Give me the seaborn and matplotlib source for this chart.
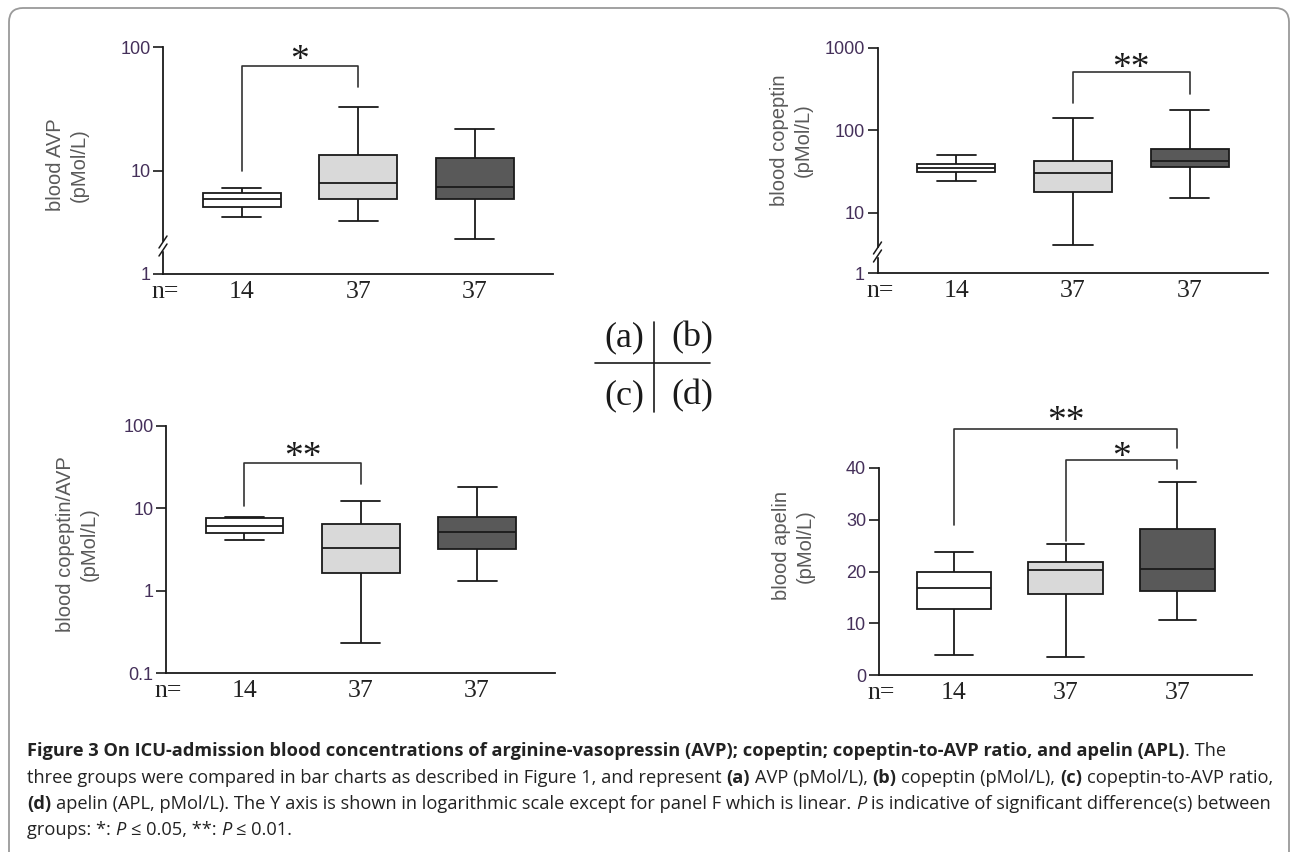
import numpy as np
import pandas as pd
import matplotlib
matplotlib.use("Agg")
import matplotlib.pyplot as plt
import seaborn as sns
from matplotlib.patches import FancyBboxPatch, Rectangle
from matplotlib.lines import Line2D
from matplotlib.transforms import IdentityTransform
from matplotlib.ticker import NullLocator

# three groups on the x axis, with their sizes printed under each box
groups = ["group 1", "group 2", "group 3"]
n_sizes = ["14", "37", "37"]
box_colors = ["#ffffff", "#d9d9d9", "#595959"]

# five-number summaries: low whisker, Q1, median, Q3, high whisker
avp = [[4.23, 5.15, 5.9, 6.6, 7.35],
       [3.93, 5.9, 8.0, 13.5, 32.6],
       [2.83, 5.95, 7.43, 12.7, 21.8]]
copeptin = [[24.7, 31.7, 35.1, 39.3, 50.0],
            [4.06, 17.8, 30.5, 42.7, 143.0],
            [15.1, 36.5, 43.1, 59.2, 175.0]]
ratio = [[4.07, 4.95, 6.18, 7.6, 7.88],
         [0.232, 1.64, 3.32, 6.42, 12.4],
         [1.32, 3.24, 5.21, 7.93, 18.4]]
apelin = [[3.8, 12.7, 16.8, 19.9, 23.7],
          [3.5, 15.6, 20.2, 21.9, 25.4],
          [10.7, 16.2, 20.5, 28.3, 37.2]]

# significant comparisons: (group i, group j, label)
sig_a = [(0, 1, "*")]
sig_b = [(1, 2, "**")]
sig_c = [(0, 1, "**")]
sig_d = [(0, 2, "**"), (1, 2, "*")]

sns.set_theme(style="ticks")
plt.rcParams["font.family"] = ["Liberation Sans", "DejaVu Sans"]

W, H = 1292, 852
fig = plt.figure(figsize=(W / 100, H / 100), dpi=100)
ink = "#1a1a1a"
tick_col = "#45305a"


def fx(x):
    return x / W


def fy(y):
    return 1 - y / H


def add_ax(l, t, r, b):
    return fig.add_axes([l / W, 1 - b / H, (r - l) / W, (b - t) / H])


def broken_log(lb, k):
    # log axis, squeezed by k below the break value 10**lb
    def fwd(v):
        lv = np.log10(np.clip(np.asarray(v, dtype=float), 1e-9, None))
        return np.where(lv >= lb, lv, lb - (lb - lv) * k)

    def inv(u):
        u = np.asarray(u, dtype=float)
        return np.where(u >= lb, 10.0 ** u, 10.0 ** (lb - (lb - u) / k))
    return fwd, inv


def draw_panel(ax, stats, yticks, ylim, sig, bracket_y, star_y):
    df = pd.DataFrame({"group": np.repeat(groups, 5), "value": np.concatenate(stats)})
    sns.boxplot(data=df, x="group", y="value", hue="group", palette=box_colors,
                legend=False, width=0.67, whis=(0, 100), linecolor=ink,
                linewidth=1.3, saturation=1, ax=ax)
    ax.set_ylim(*ylim)
    ax.set_xlim(-0.675, 2.67)
    ax.set_yticks(yticks, [f"{t:g}" for t in yticks])
    ax.yaxis.set_minor_locator(NullLocator())
    ax.set_xticks(range(3), n_sizes)
    ax.set_xlabel("")
    ax.set_ylabel("")
    ax.patch.set_alpha(0)
    for s in ["top", "right"]:
        ax.spines[s].set_visible(False)
    for s in ["left", "bottom"]:
        ax.spines[s].set_color(ink)
        ax.spines[s].set_linewidth(1.3)
    ax.tick_params(axis="x", length=0, pad=5, labelsize=18.5, labelcolor="#222222")
    for lab in ax.get_xticklabels():
        lab.set_fontfamily("Liberation Serif")
    ax.tick_params(axis="y", direction="out", length=7, width=1.2, color=ink,
                   labelsize=13, labelcolor=tick_col, pad=2)
    ax.annotate("n=", xy=(0, 0), xycoords="axes fraction", xytext=(-8, -5),
                textcoords="offset points", ha="left", va="top", fontsize=18.5,
                family="Liberation Serif", color="#222222")
    for (i, j, lab), (yl, yt, yr), sy in zip(sig, bracket_y, star_y):
        ax.plot([i, i, j, j], [yl, yt, yt, yr], color="#333333", lw=1.2, clip_on=False)
        ax.annotate(lab, xy=((i + j) / 2, sy), xytext=(0, -8), textcoords="offset points",
                    ha="center", va="center", fontsize=27, family="Liberation Serif",
                    color=ink, annotation_clip=False)


def axis_break(x, y):
    fig.add_artist(Rectangle((fx(x - 4), fy(y + 4)), 8 / W, 8 / H, color="white",
                             transform=fig.transFigure, zorder=5))
    for d in (-4, 4):
        fig.add_artist(Line2D([fx(x - 4), fx(x + 4)], [fy(y + d + 6), fy(y + d - 6)],
                              color=ink, lw=1.1, transform=fig.transFigure, zorder=6))


# (a) AVP, axis broken near 2.6
ax_a = add_ax(163, 47, 553, 274)
ax_a.set_yscale("function", functions=broken_log(0.411, 0.589))
draw_panel(ax_a, avp, [1, 10, 100], (1, 100), sig_a, [(10, 70.6, 47.8)], [94.6])
axis_break(163, 246)

# (b) copeptin, axis broken near 3.6
ax_b = add_ax(877.5, 48, 1268, 273)
ax_b.set_yscale("function", functions=broken_log(0.551, 0.506))
draw_panel(ax_b, copeptin, [1, 10, 100, 1000], (1, 1000), sig_b, [(214, 507, 275)], [757])
axis_break(877.5, 252)

# (c) copeptin / AVP
ax_c = add_ax(166, 426, 555, 673)
ax_c.set_yscale("log")
draw_panel(ax_c, ratio, [0.1, 1, 10, 100], (0.1, 100), sig_c, [(10.8, 35.9, 20.0)], [56])

# (d) apelin, linear
ax_d = add_ax(878.6, 468, 1252, 675)
draw_panel(ax_d, apelin, [0, 10, 20, 30, 40], (0, 40), sig_d,
           [(29.0, 47.5, 43.9), (25.8, 41.5, 39.8)], [51, 44.1])

# y labels
ylabels = [("blood AVP\n(pMol/L)", 67, 165),
           ("blood copeptin\n(pMol/L)", 791, 140),
           ("blood copeptin/AVP\n(pMol/L)", 77, 544),
           ("blood apelin\n(pMol/L)", 793, 546)]
for txt, x, y in ylabels:
    fig.text(fx(x), fy(y), txt, rotation=90, ha="center", va="center", ma="center",
             fontsize=14.5, linespacing=1.3, color="#5a5a5a")

# panel key in the middle
for lab, x, y in [("(a)", 624, 338), ("(b)", 692, 338), ("(c)", 624, 396), ("(d)", 692, 396)]:
    fig.text(fx(x), fy(y), lab, ha="center", va="center", fontsize=26,
             family="Liberation Serif", color=ink)
fig.add_artist(Line2D([fx(654), fx(654)], [fy(322), fy(412)], color=ink, lw=1.2,
                      transform=fig.transFigure))
fig.add_artist(Line2D([fx(595), fx(710)], [fy(363), fy(363)], color=ink, lw=1.2,
                      transform=fig.transFigure))

# rounded frame, open at the bottom
fig.add_artist(FancyBboxPatch((9, -40), 1280, 844 + 40, boxstyle="round,pad=0,rounding_size=14",
                              fill=False, edgecolor="#9a9a9a", lw=1.3,
                              transform=IdentityTransform()))

# caption, drawn run by run so bold / italic parts can be mixed
cap_font = ["Open Sans", "DejaVu Sans"]
renderer = fig.canvas.get_renderer()
B, N, I = ("bold", "normal"), ("normal", "normal"), ("normal", "italic")
caption = [
    [("Figure 3 On ICU-admission blood concentrations of arginine-vasopressin (AVP); "
      "copeptin; copeptin-to-AVP ratio, and apelin (APL)", B), (". The", N)],
    [("three groups were compared in bar charts as described in Figure 1, and represent ", N),
     ("(a)", B), (" AVP (pMol/L), ", N), ("(b)", B), (" copeptin (pMol/L), ", N),
     ("(c)", B), (" copeptin-to-AVP ratio,", N)],
    [("(d)", B), (" apelin (APL, pMol/L). The Y axis is shown in logarithmic scale except "
                  "for panel F which is linear. ", N), ("P", I),
     (" is indicative of significant difference(s) between", N)],
    [("groups: *: ", N), ("P", I), (" \u2264 0.05, **: ", N), ("P", I), (" \u2264 0.01.", N)],
]


def draw_runs(x0, y, runs, size):
    t1 = fig.text(0, 0, "x x", fontsize=size, family=cap_font)
    t2 = fig.text(0, 0, "xx", fontsize=size, family=cap_font)
    space_w = t1.get_window_extent(renderer).width - t2.get_window_extent(renderer).width
    t1.remove()
    t2.remove()
    x = x0
    made = []
    for txt, (weight, style) in runs:
        core = txt.strip(" ")
        x += (len(txt) - len(txt.lstrip(" "))) * space_w
        t = fig.text(fx(x), fy(y), core, fontsize=size, fontweight=weight, fontstyle=style,
                     family=cap_font, color="#222222", ha="left", va="baseline")
        made.append(t)
        x = t.get_window_extent(renderer).x1 + (len(txt) - len(txt.rstrip(" "))) * space_w
    return x, made


end, tmp = draw_runs(27, 800, caption[1], 12)
for t in tmp:
    t.remove()
cap_size = 12 * (1267 - 27) / (end - 27)
for runs, y in zip(caption, [756, 783, 809, 835]):
    draw_runs(27, y, runs, cap_size)

fig.savefig("out.png", dpi=100)
